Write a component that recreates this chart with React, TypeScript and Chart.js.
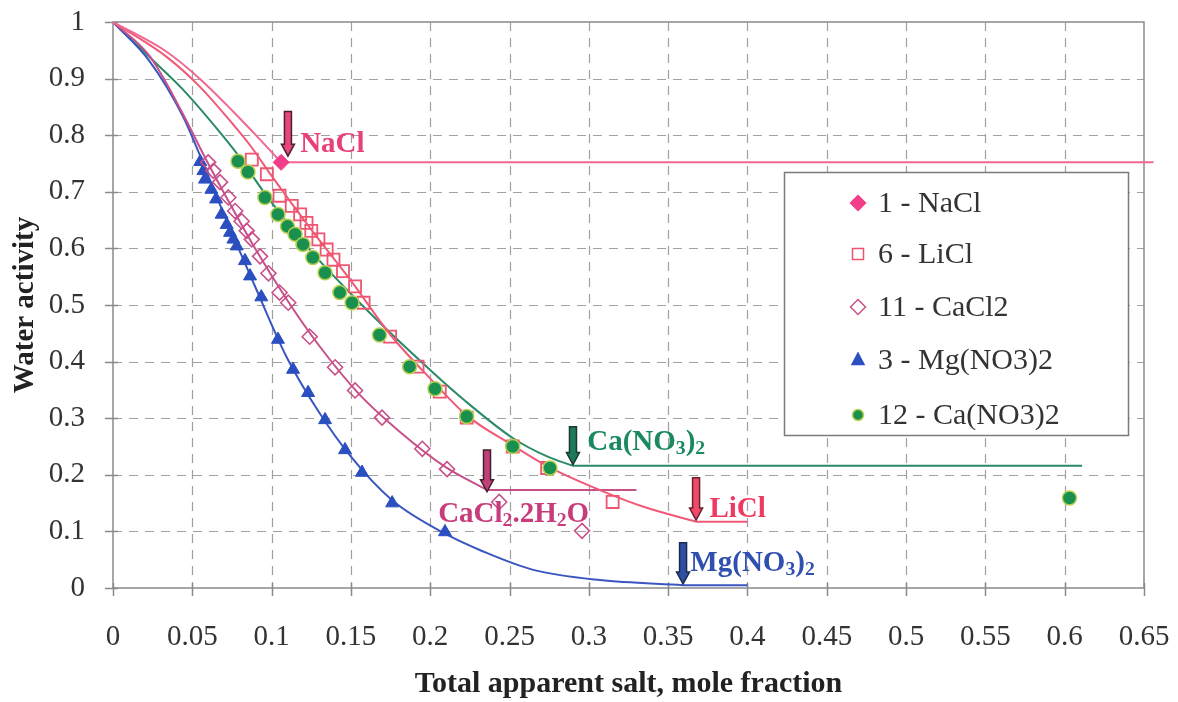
import React, { useEffect, useRef } from 'react';
import { Chart, registerables } from 'chart.js';

Chart.register(...registerables);

const FONT = '"Liberation Serif", "Times New Roman", serif';

// Axis ticks
const X_TICKS = [0, 0.05, 0.1, 0.15, 0.2, 0.25, 0.3, 0.35, 0.4, 0.45, 0.5, 0.55, 0.6, 0.65];
const Y_TICKS = [0, 0.1, 0.2, 0.3, 0.4, 0.5, 0.6, 0.7, 0.8, 0.9, 1];
const X_TITLE = 'Total apparent salt, mole fraction';
const Y_TITLE = 'Water activity';

// Measured points [x, y]
const NACL_POINTS = [[0.106, 0.752]];
const LICL_POINTS = [
  [0.0875, 0.757], [0.097, 0.731], [0.105, 0.693], [0.1127, 0.675], [0.118, 0.66], [0.122, 0.645],
  [0.125, 0.631], [0.1295, 0.616], [0.1347, 0.598], [0.139, 0.58], [0.145, 0.56], [0.1526, 0.533],
  [0.158, 0.504], [0.1747, 0.444], [0.192, 0.391], [0.206, 0.347], [0.223, 0.301], [0.252, 0.25],
  [0.2737, 0.212], [0.315, 0.152],
];
const CACL2_POINTS = [
  [0.06, 0.752], [0.0633, 0.737], [0.0675, 0.717], [0.0727, 0.69], [0.077, 0.666], [0.0811, 0.648],
  [0.0843, 0.631], [0.0875, 0.616], [0.0927, 0.586], [0.098, 0.556], [0.105, 0.522], [0.1105, 0.504],
  [0.124, 0.444], [0.14, 0.39], [0.1526, 0.349], [0.1696, 0.301], [0.195, 0.246], [0.2106, 0.21],
  [0.2435, 0.152], [0.2957, 0.101],
];
const MGNO3_POINTS = [
  [0.055, 0.753], [0.057, 0.737], [0.058, 0.722], [0.062, 0.704], [0.065, 0.687], [0.0685, 0.66],
  [0.0717, 0.642], [0.0738, 0.628], [0.0759, 0.616], [0.078, 0.604], [0.0832, 0.578], [0.0864, 0.551],
  [0.0935, 0.514], [0.104, 0.439], [0.1135, 0.386], [0.123, 0.345], [0.1337, 0.297], [0.1463, 0.244],
  [0.157, 0.204], [0.176, 0.15], [0.2093, 0.099],
];
const CANO3_POINTS = [
  [0.0788, 0.754], [0.0851, 0.735], [0.0958, 0.69], [0.104, 0.66], [0.11, 0.639], [0.1148, 0.625],
  [0.1198, 0.607], [0.126, 0.584], [0.1337, 0.557], [0.143, 0.522], [0.1507, 0.504], [0.168, 0.447],
  [0.187, 0.391], [0.203, 0.352], [0.223, 0.303], [0.252, 0.25], [0.2755, 0.212], [0.603, 0.159],
];

// Model curves [x, y]
const NACL_CURVE = [[0, 1], [0.034, 0.947], [0.055, 0.899], [0.0757, 0.842], [0.0908, 0.798], [0.106, 0.752]];
const NACL_FLAT = [[0.106, 0.752], [0.656, 0.752]];
const LICL_CURVE = [
  [0, 1], [0.034, 0.938], [0.055, 0.885], [0.076, 0.818], [0.087, 0.78], [0.1, 0.728], [0.125, 0.633],
  [0.15, 0.543], [0.175, 0.447], [0.2, 0.37], [0.223, 0.305], [0.252, 0.252], [0.274, 0.215],
  [0.307, 0.173], [0.335, 0.143], [0.3676, 0.117],
];
const LICL_FLAT = [[0.3676, 0.117], [0.4, 0.117]];
const CACL2_CURVE = [
  [0, 1], [0.023, 0.94], [0.044, 0.838], [0.057, 0.766], [0.07, 0.698], [0.09, 0.598], [0.11, 0.508],
  [0.13, 0.428], [0.155, 0.343], [0.18, 0.278], [0.21, 0.213], [0.236, 0.173],
];
const CACL2_FLAT = [[0.236, 0.173], [0.33, 0.173]];
const MGNO3_CURVE = [
  [0, 1], [0.023, 0.931], [0.044, 0.834], [0.055, 0.763], [0.07, 0.66], [0.09, 0.53], [0.11, 0.405],
  [0.13, 0.31], [0.15, 0.232], [0.176, 0.155], [0.21, 0.095], [0.233, 0.065], [0.265, 0.032],
  [0.307, 0.014], [0.3594, 0.005],
];
const MGNO3_FLAT = [[0.3594, 0.005], [0.4, 0.005]];
const CANO3_CURVE = [
  [0, 1], [0.023, 0.938], [0.044, 0.881], [0.066, 0.81], [0.078, 0.768], [0.095, 0.7], [0.122, 0.604],
  [0.158, 0.497], [0.195, 0.398], [0.221, 0.333], [0.252, 0.265], [0.274, 0.232], [0.29, 0.216],
];
const CANO3_FLAT = [[0.29, 0.216], [0.611, 0.216]];

// Arrow annotations: x, top y, bottom y
const ARROWS = [
  { x: 0.1103, y1: 0.842, y2: 0.763, fill: '#e8457a', stroke: '#4a2030' },
  { x: 0.29, y1: 0.285, y2: 0.218, fill: '#1f7a5a', stroke: '#1a3a30' },
  { x: 0.2358, y1: 0.244, y2: 0.17, fill: '#c0407a', stroke: '#40202a' },
  { x: 0.3676, y1: 0.195, y2: 0.12, fill: '#ef4a6a', stroke: '#6a2030' },
  { x: 0.3594, y1: 0.08, y2: 0.007, fill: '#2f4fa0', stroke: '#1a2a50' },
];
const LABELS = [
  { x: 0.118, y: 0.784, color: '#e8407a', segs: [{ t: 'NaCl' }] },
  { x: 0.299, y: 0.257, color: '#1a8a5e', segs: [{ t: 'Ca(NO' }, { t: '3', sub: true }, { t: ')' }, { t: '2', sub: true }] },
  { x: 0.205, y: 0.13, color: '#c83c7c', segs: [{ t: 'CaCl' }, { t: '2', sub: true }, { t: '.2H' }, { t: '2', sub: true }, { t: 'O' }] },
  { x: 0.376, y: 0.138, color: '#ee3a60', segs: [{ t: 'LiCl' }] },
  { x: 0.364, y: 0.044, color: '#3050b0', segs: [{ t: 'Mg(NO' }, { t: '3', sub: true }, { t: ')' }, { t: '2', sub: true }] },
];

const LEGEND_ITEMS = [
  { text: '1 - NaCl', style: 'diamond', fill: '#f23d8a', stroke: '#f23d8a' },
  { text: '6 - LiCl', style: 'square', fill: null, stroke: '#ee5570' },
  { text: '11 - CaCl2', style: 'diamond', fill: null, stroke: '#c8508a' },
  { text: '3 - Mg(NO3)2', style: 'triangle', fill: '#2b4fc0', stroke: '#2b4fc0' },
  { text: '12 - Ca(NO3)2', style: 'circle', fill: '#1a9050', stroke: '#b8d050' },
];

const toXY = (arr: number[][]) => arr.map(([x, y]) => ({ x, y }));
const fmt = (v: number) => String(+Number(v).toFixed(2));

function drawMarker(ctx: CanvasRenderingContext2D, style: string, x: number, y: number, fill: string | null, stroke: string) {
  ctx.beginPath();
  if (style === 'diamond') {
    const r = 7.5;
    ctx.moveTo(x, y - r); ctx.lineTo(x + r, y); ctx.lineTo(x, y + r); ctx.lineTo(x - r, y); ctx.closePath();
  } else if (style === 'square') {
    const h = 5.5;
    ctx.rect(x - h, y - h, h * 2, h * 2);
  } else if (style === 'triangle') {
    ctx.moveTo(x, y - 7); ctx.lineTo(x + 6, y + 4.5); ctx.lineTo(x - 6, y + 4.5); ctx.closePath();
  } else {
    ctx.arc(x, y, 5.5, 0, Math.PI * 2);
  }
  if (fill) { ctx.fillStyle = fill; ctx.fill(); }
  ctx.strokeStyle = stroke; ctx.lineWidth = 1.5; ctx.stroke();
}

const framePlugin = {
  id: 'frameGrid',
  beforeDatasetsDraw(chart: any) {
    const { ctx, chartArea: a, scales } = chart;
    const xs = scales.x, ys = scales.y;
    ctx.save();
    ctx.strokeStyle = '#a0a0a0';
    ctx.lineWidth = 1.2;
    ctx.setLineDash([9, 7]);
    X_TICKS.forEach((v) => {
      if (v <= xs.min || v >= xs.max) return;
      const px = Math.round(xs.getPixelForValue(v)) + 0.5;
      ctx.beginPath(); ctx.moveTo(px, a.top); ctx.lineTo(px, a.bottom); ctx.stroke();
    });
    Y_TICKS.forEach((v) => {
      if (v <= ys.min || v >= ys.max) return;
      const py = Math.round(ys.getPixelForValue(v)) + 0.5;
      ctx.beginPath(); ctx.moveTo(a.left, py); ctx.lineTo(a.right, py); ctx.stroke();
    });
    ctx.setLineDash([]);
    ctx.strokeStyle = '#8a8a8a';
    ctx.lineWidth = 1.5;
    ctx.strokeRect(a.left, a.top, a.right - a.left, a.bottom - a.top);
    X_TICKS.forEach((v) => {
      const px = Math.round(xs.getPixelForValue(v)) + 0.5;
      ctx.beginPath(); ctx.moveTo(px, a.bottom - 5); ctx.lineTo(px, a.bottom + 8); ctx.stroke();
    });
    Y_TICKS.forEach((v) => {
      const py = Math.round(ys.getPixelForValue(v)) + 0.5;
      ctx.beginPath(); ctx.moveTo(a.left - 8, py); ctx.lineTo(a.left + 5, py); ctx.stroke();
    });
    ctx.restore();
  },
  afterDatasetsDraw(chart: any) {
    const { ctx, scales } = chart;
    const xs = scales.x, ys = scales.y;
    ctx.save();
    // arrows
    ARROWS.forEach((ar) => {
      const x = xs.getPixelForValue(ar.x);
      const yt = ys.getPixelForValue(ar.y1);
      const yb = ys.getPixelForValue(ar.y2);
      const sw = 3.5, hw = 6.5, hh = 12;
      ctx.beginPath();
      ctx.moveTo(x - sw, yt);
      ctx.lineTo(x + sw, yt);
      ctx.lineTo(x + sw, yb - hh);
      ctx.lineTo(x + hw, yb - hh);
      ctx.lineTo(x, yb);
      ctx.lineTo(x - hw, yb - hh);
      ctx.lineTo(x - sw, yb - hh);
      ctx.closePath();
      ctx.fillStyle = ar.fill;
      ctx.fill();
      ctx.strokeStyle = ar.stroke;
      ctx.lineWidth = 1.5;
      ctx.stroke();
    });
    // labels
    const size = 29;
    ctx.textBaseline = 'middle';
    ctx.textAlign = 'left';
    LABELS.forEach((lb) => {
      let cx = xs.getPixelForValue(lb.x);
      const cy = ys.getPixelForValue(lb.y);
      ctx.fillStyle = lb.color;
      lb.segs.forEach((s: any) => {
        const fs = s.sub ? size * 0.68 : size;
        ctx.font = `bold ${fs}px ${FONT}`;
        ctx.fillText(s.t, cx, cy + (s.sub ? size * 0.22 : 0));
        cx += ctx.measureText(s.t).width;
      });
    });
    // legend
    const L = 784, T = 172, R = 1128, B = 435;
    ctx.fillStyle = '#ffffff';
    ctx.fillRect(L, T, R - L, B - T);
    ctx.strokeStyle = '#7a7a7a';
    ctx.lineWidth = 1.5;
    ctx.strokeRect(L + 0.5, T + 0.5, R - L, B - T);
    const rows = [203, 254, 307, 360, 415];
    ctx.font = `30px ${FONT}`;
    LEGEND_ITEMS.forEach((it, i) => {
      drawMarker(ctx, it.style, 858, rows[i], it.fill, it.stroke);
      ctx.fillStyle = '#333333';
      ctx.textBaseline = 'middle';
      ctx.fillText(it.text, 878, rows[i] + 1);
    });
    ctx.restore();
  },
};

export default function App() {
  const ref = useRef<HTMLCanvasElement>(null);
  useEffect(() => {
    if (!ref.current) return;
    const lineDs = (data: number[][], color: string, curve: boolean, clip: any = undefined) => ({
      type: 'line' as const,
      data: toXY(data),
      borderColor: color,
      backgroundColor: color,
      borderWidth: 2,
      pointRadius: 0,
      showLine: true,
      fill: false,
      cubicInterpolationMode: curve ? ('monotone' as const) : ('default' as const),
      tension: 0,
      ...(clip !== undefined ? { clip } : {}),
    });
    const ptDs = (data: number[][], style: string, radius: number, fill: string, stroke: string, bw: number) => ({
      type: 'scatter' as const,
      data: toXY(data),
      pointStyle: style,
      pointRadius: radius,
      pointBackgroundColor: fill,
      pointBorderColor: stroke,
      pointBorderWidth: bw,
      showLine: false,
    });
    const chart = new Chart(ref.current, {
      type: 'scatter',
      data: {
        datasets: [
          ptDs(CANO3_POINTS, 'circle', 7, '#1a9050', '#b8d050', 1.5),
          ptDs(NACL_POINTS, 'rectRot', 8, '#f23d8a', '#f23d8a', 1),
          ptDs(LICL_POINTS, 'rect', 8.5, 'rgba(255,255,255,0)', '#ee5570', 1.8),
          ptDs(CACL2_POINTS, 'rectRot', 7.5, 'rgba(255,255,255,0)', '#c8508a', 1.6),
          ptDs(MGNO3_POINTS, 'triangle', 7.5, '#2b4fc0', '#2b4fc0', 1),
          lineDs(NACL_CURVE, '#f06890', true),
          lineDs(NACL_FLAT, '#f06890', false, false),
          lineDs(LICL_CURVE, '#f05a78', true),
          lineDs(LICL_FLAT, '#f05a78', false),
          lineDs(CACL2_CURVE, '#c8508a', true),
          lineDs(CACL2_FLAT, '#c8508a', false),
          lineDs(MGNO3_CURVE, '#3a56c0', true),
          lineDs(MGNO3_FLAT, '#3a56c0', false),
          lineDs(CANO3_CURVE, '#2a8a66', true),
          lineDs(CANO3_FLAT, '#2a8a66', false),
        ] as any,
      },
      options: {
        animation: false,
        responsive: false,
        layout: { padding: { top: 22, right: 34, left: 0, bottom: 0 } },
        plugins: { legend: { display: false }, tooltip: { enabled: false } },
        scales: {
          x: {
            type: 'linear',
            min: 0,
            max: 0.65,
            afterBuildTicks: (s: any) => { s.ticks = X_TICKS.map((v) => ({ value: v })); },
            afterFit: (s: any) => { s.height = 114; s.paddingLeft = 0; s.paddingRight = 0; },
            ticks: {
              font: { family: FONT, size: 29 },
              color: '#333333',
              padding: 32,
              maxRotation: 0,
              autoSkip: false,
              callback: (v: any) => fmt(v),
            },
            grid: { display: false, drawTicks: false },
            border: { display: false },
            title: {
              display: true,
              text: X_TITLE,
              font: { family: FONT, size: 30, weight: 'bold' },
              color: '#222222',
              padding: { top: 0, bottom: 0 },
            },
          },
          y: {
            type: 'linear',
            min: 0,
            max: 1,
            afterBuildTicks: (s: any) => { s.ticks = Y_TICKS.map((v) => ({ value: v })); },
            afterFit: (s: any) => { s.width = 113; s.paddingTop = 0; s.paddingBottom = 0; },
            ticks: {
              font: { family: FONT, size: 29 },
              color: '#333333',
              padding: 28,
              autoSkip: false,
              callback: (v: any) => fmt(v),
            },
            grid: { display: false, drawTicks: false },
            border: { display: false },
            title: {
              display: true,
              text: Y_TITLE,
              font: { family: FONT, size: 29, weight: 'bold' },
              color: '#222222',
              padding: { top: 8, bottom: 0 },
            },
          },
        },
      } as any,
      plugins: [framePlugin as any],
    });
    return () => chart.destroy();
  }, []);
  return (
    <div style={{ position: 'absolute', left: 0, top: 0, width: 1178, height: 702, background: '#ffffff' }}>
      <canvas ref={ref} width={1178} height={702} style={{ display: 'block', width: 1178, height: 702 }} />
    </div>
  );
}
